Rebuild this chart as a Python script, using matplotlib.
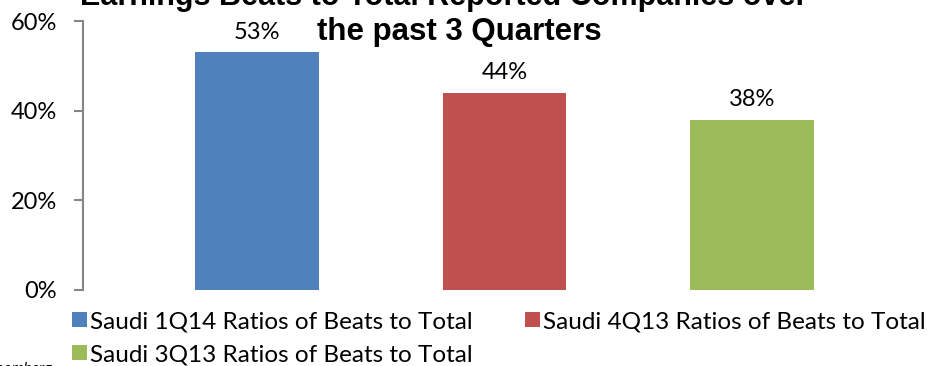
import numpy as np
import matplotlib.pyplot as plt

# Earnings beats ratios for the last three reported quarters
quarters = ["Saudi 1Q14 Ratios of Beats to Total",
            "Saudi 4Q13 Ratios of Beats to Total",
            "Saudi 3Q13 Ratios of Beats to Total"]
ratios = [53, 44, 38]
colors = ["#4F81BD", "#C0504D", "#9BBB59"]
yticks = [0, 20, 40, 60]

body_font = "Lato"
title_font = "Liberation Sans"

fig = plt.figure(figsize=(9.3, 3.66), dpi=100)
ax = fig.add_axes([83 / 930, 1 - 290 / 366, 843 / 930, 269 / 366])

x = np.arange(len(ratios))
bars = ax.bar(x, ratios, width=0.5, color=colors)

for xi, val in zip(x, ratios):
    ax.annotate(f"{val}%", (xi, val), xytext=(0, 7), textcoords="offset points",
                ha="center", va="bottom", fontsize=17, family=body_font)

ax.set_xlim(-0.703, 2.703)
ax.set_ylim(0, 60)
ax.set_yticks(yticks)
ax.set_yticklabels([f"{t}%" for t in yticks], fontsize=17, family=body_font)
ax.set_xticks([])
for s in ["top", "right", "bottom"]:
    ax.spines[s].set_visible(False)
ax.spines["left"].set_color("#868686")
ax.spines["left"].set_linewidth(1.5)
ax.tick_params(axis="y", direction="out", length=6.5, width=1.5, color="#868686", pad=12)

# title (two lines, partly cut at the top like the source)
fig.text(444 / 930, 1 - 5 / 366, "Earnings Beats to Total Reported Companies over",
         ha="center", va="baseline", fontsize=22, fontweight="bold", family=title_font)
fig.text(459 / 930, 1 - 40 / 366, "the past 3 Quarters",
         ha="center", va="baseline", fontsize=22.5, fontweight="bold", family=title_font)

# legend: column-major fill gives 1Q14, 4Q13 on row one and 3Q13 on row two
order = [0, 2, 1]
leg = fig.legend([bars[i] for i in order], [quarters[i] for i in order],
                 ncol=2, loc="upper left", bbox_to_anchor=(72 / 930, 1 - 311 / 366),
                 frameon=False, prop={"family": body_font, "size": 17.5},
                 handlelength=0.6, handleheight=0.6, handletextpad=0.15,
                 columnspacing=2.15, labelspacing=0.5, borderpad=0, borderaxespad=0)

fig.text(52 / 930, -7 / 366, "Source: Bloomberg", ha="right", va="baseline",
         fontsize=11, style="italic", family=body_font)

fig.savefig("out.png", dpi=100)
